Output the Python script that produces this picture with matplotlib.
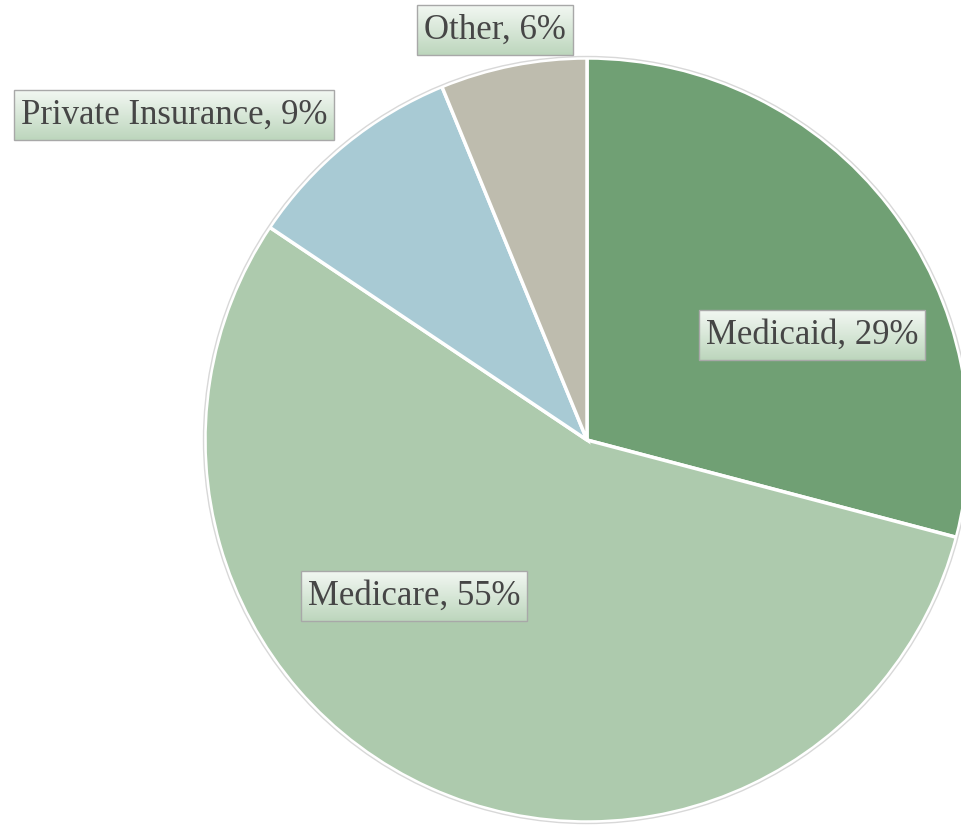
import matplotlib.pyplot as plt
import numpy as np
from matplotlib.patches import Rectangle

# data
payers = ["Medicaid", "Medicare", "Private Insurance", "Other"]
shares = [29.1, 55.3, 9.4, 6.2]
colors = ["#70a074", "#adcaad", "#a8cad4", "#bebcae"]

# label box centres (pixel coords, y down)
label_pos = [(812, 335), (414, 596), (174, 115), (495, 30)]

W, H = 961, 825
fig = plt.figure(figsize=(W / 100, H / 100), dpi=100)
ax = fig.add_axes([0, 0, 1, 1])

cx, cy, r = 587, H - 440, 382
wedges, _ = ax.pie(
    shares, colors=colors, startangle=90, counterclock=False,
    center=(cx, cy), radius=r, frame=True,
    wedgeprops=dict(edgecolor="white", linewidth=2.5),
)
ax.set_xlim(0, W)
ax.set_ylim(0, H)
ax.set_aspect("equal")
ax.axis("off")
# thin grey outline round the pie
circ = plt.Circle((cx, cy), r + 1.5, fill=False, edgecolor="#d8d8d8", linewidth=1)
ax.add_patch(circ)

texts = []
for name, val, (px, py) in zip(payers, shares, label_pos):
    t = ax.text(px, H - py, f"{name}, {round(val)}%", ha="center", va="center",
                fontsize=25, family="Liberation Serif", color="#464646", zorder=5)
    texts.append(t)

fig.canvas.draw()
renderer = fig.canvas.get_renderer()
grad = np.linspace(0, 1, 64).reshape(-1, 1)
top = np.array([0.95, 0.97, 0.95])
bot = np.array([0.74, 0.84, 0.74])
img = top[None, None, :] * (1 - grad[:, :, None]) + bot[None, None, :] * grad[:, :, None]
for t in texts:
    bb = t.get_window_extent(renderer)
    x0, x1 = bb.x0 - 7, bb.x1 + 7
    px, py = t.get_position()
    y0, y1 = py - 25, py + 25
    ax.imshow(img, extent=(x0, x1, y0, y1), origin="upper", aspect="auto", zorder=4)
    ax.add_patch(Rectangle((x0, y0), x1 - x0, y1 - y0, fill=False,
                           edgecolor="#a8a8a8", linewidth=1, zorder=4.5))

ax.set_xlim(0, W)
ax.set_ylim(0, H)
fig.savefig("out.png", dpi=100)
